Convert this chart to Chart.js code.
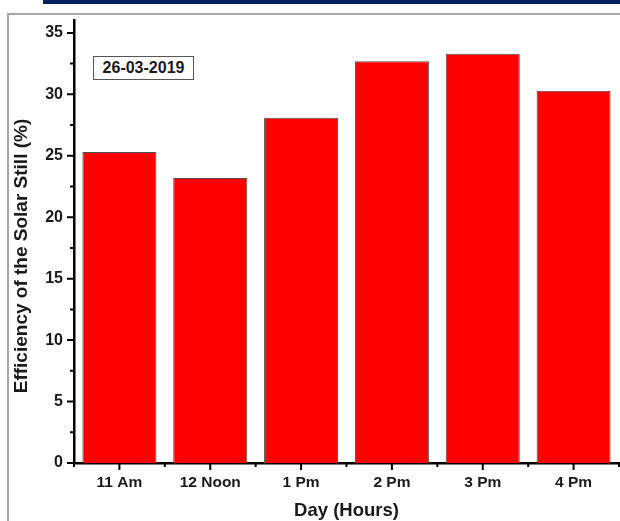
<!DOCTYPE html>
<html>
<head>
<meta charset="utf-8">
<script src="https://cdn.jsdelivr.net/npm/chart.js@4.4.1/dist/chart.umd.min.js"></script>
<style>
  html, body { margin: 0; padding: 0; background: #ffffff; overflow: hidden; }
  #wrap { position: relative; width: 620px; height: 521px; }
  #band { position: absolute; left: 43px; top: 0; width: 577px; height: 4px; background: #002060; }
  #frame { position: absolute; left: 7px; top: 13px; width: 640px; height: 540px;
           border: 2px solid #a6a6a6; box-sizing: border-box; }
  #chart { position: absolute; left: 0; top: 0; }
  #dateBox { position: absolute; left: 93px; top: 56px; width: 101px; height: 24px;
             box-sizing: border-box; border: 1.5px solid #555; background: #fff;
             font: bold 16px Arial, "Liberation Sans", sans-serif; color: #1a1a1a;
             line-height: 21px; text-align: center; }
</style>
</head>
<body>
<div id="wrap">
  <div id="band"></div>
  <div id="frame"></div>
  <canvas id="chart" width="620" height="521"></canvas>
  <div id="dateBox">26-03-2019</div>
</div>
<script>
// Hourly efficiency of the solar still on 26-03-2019
const hours = ['11 Am', '12 Noon', '1 Pm', '2 Pm', '3 Pm', '4 Pm'];
const efficiency = [25.3, 23.2, 28.1, 32.7, 33.3, 30.3];
const majorYTicks = [0, 5, 10, 15, 20, 25, 30, 35];
const minorYTicks = [2.5, 7.5, 12.5, 17.5, 22.5, 27.5, 32.5];

const FONT = 'Arial, "Liberation Sans", sans-serif';

// Outward tick marks (major + minor) and the rotated y-axis title
const axisDecor = {
  id: 'axisDecor',
  afterDraw(chart) {
    const ctx = chart.ctx;
    const x = chart.scales.x, y = chart.scales.y;
    const area = chart.chartArea;
    ctx.save();
    ctx.strokeStyle = '#000';
    ctx.lineWidth = 2;
    ctx.beginPath();
    majorYTicks.forEach(v => {
      const py = y.getPixelForValue(v);
      ctx.moveTo(area.left, py); ctx.lineTo(area.left - 7, py);
    });
    minorYTicks.forEach(v => {
      const py = y.getPixelForValue(v);
      ctx.moveTo(area.left, py); ctx.lineTo(area.left - 4, py);
    });
    const step = (area.right - area.left) / hours.length;
    hours.forEach((h, i) => {
      const px = x.getPixelForValue(i);
      ctx.moveTo(px, area.bottom); ctx.lineTo(px, area.bottom + 7);
    });
    for (let i = 0; i <= hours.length; i++) {
      const px = area.left + i * step;
      ctx.moveTo(px, area.bottom); ctx.lineTo(px, area.bottom + 4);
    }
    ctx.stroke();

    ctx.translate(22, 256);
    ctx.rotate(-Math.PI / 2);
    ctx.fillStyle = '#1a1a1a';
    ctx.font = 'bold 19px ' + FONT;
    ctx.textAlign = 'center';
    ctx.textBaseline = 'middle';
    ctx.fillText('Efficiency of the Solar Still (%)', 0, 0);
    ctx.restore();
  }
};

new Chart(document.getElementById('chart'), {
  type: 'bar',
  data: {
    labels: hours,
    datasets: [{
      data: efficiency,
      backgroundColor: '#ff0000',
      borderColor: '#505050',
      borderWidth: 1,
      barPercentage: 0.815,
      categoryPercentage: 1.0
    }]
  },
  options: {
    responsive: false,
    animation: false,
    layout: { padding: { top: 20, right: 1, left: 0, bottom: 0 } },
    plugins: { legend: { display: false }, tooltip: { enabled: false } },
    scales: {
      x: {
        grid: { display: false, drawTicks: false },
        border: { display: true, color: '#000', width: 2.5 },
        ticks: { color: '#1a1a1a', font: { family: FONT, size: 15.5, weight: 'bold' }, padding: 10, maxRotation: 0 },
        title: { display: true, text: 'Day (Hours)', color: '#1a1a1a',
                 font: { family: FONT, size: 18.5, weight: 'bold', lineHeight: 1.1 },
                 padding: { top: 0, bottom: 0 } },
        afterFit(s) { s.height = 58; }
      },
      y: {
        min: 0, max: 36,
        grid: { display: false, drawTicks: false },
        border: { display: true, color: '#000', width: 2.5 },
        ticks: { stepSize: 5, includeBounds: false, color: '#1a1a1a',
                 font: { family: FONT, size: 16, weight: 'bold' }, padding: 11 },
        afterFit(s) { s.width = 74; }
      }
    }
  },
  plugins: [axisDecor]
});
</script>
</body>
</html>
